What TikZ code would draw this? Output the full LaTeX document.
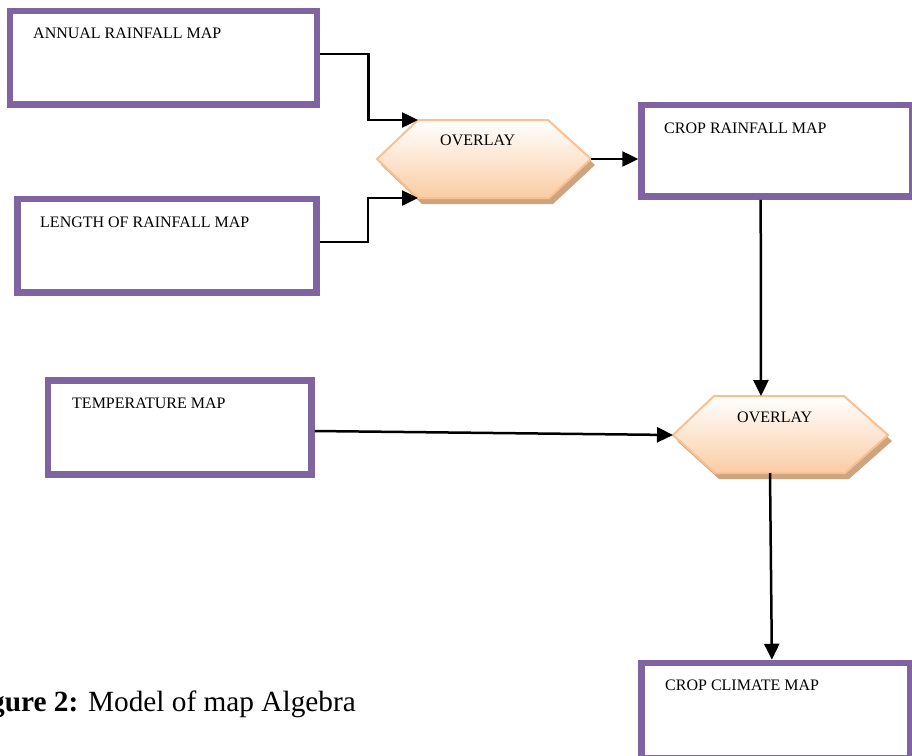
\documentclass[tikz,border=0pt]{standalone}
\usepackage{fontspec}
\setmainfont{Liberation Serif}
\usetikzlibrary{arrows.meta,calc}
\definecolor{boxpurple}{RGB}{128,100,162}
\definecolor{hexline}{RGB}{250,192,143}
\definecolor{hexfill}{RGB}{250,204,164}
\definecolor{hexshadow}{RGB}{204,164,128}
\tikzset{
  mapbox/.style={draw=boxpurple, line width=6.5pt, fill=white, inner sep=0pt},
  maplabel/.style={anchor=base west, inner sep=0pt, font=\fontsize{16}{18}\selectfont},
  conn/.style={line width=2.5pt, -{Triangle[length=16pt,width=15pt]}},
  hexshape/.style={draw=hexline, line width=2pt, top color=white, bottom color=hexfill},
  hexshadowstyle/.style={fill=hexshadow}
}
\begin{document}
\begin{tikzpicture}[x=1pt,y=-1pt]
\useasboundingbox (0,0) rectangle (912,755);

% boxes
\node[mapbox, minimum width=307pt, minimum height=93.5pt] (b1) at (163.5,57.75) {};
\node[mapbox, minimum width=299pt, minimum height=93.5pt] (b2) at (167,245.75) {};
\node[mapbox, minimum width=263.5pt, minimum height=94pt] (b3) at (179.75,427.5) {};
\node[mapbox, minimum width=270.5pt, minimum height=91.5pt] (b4) at (776.75,150.75) {};
\node[mapbox, minimum width=268.5pt, minimum height=95pt] (b5) at (775.75,710.5) {};

\node[maplabel] (t1) at (33,38) {ANNUAL RAINFALL MAP};
\node[maplabel] (t2) at (40,227) {LENGTH OF RAINFALL MAP};
\node[maplabel] (t3) at (72,408) {TEMPERATURE MAP};
\node[maplabel] (t4) at (664,133) {CROP RAINFALL MAP};
\node[maplabel] (t5) at (665,690) {CROP CLIMATE MAP};

% hexagon 1
\coordinate (h1l) at (377,159);
\coordinate (h1tl) at (418,120);
\coordinate (h1tr) at (548,120);
\coordinate (h1r) at (591,159);
\coordinate (h1br) at (549,198);
\coordinate (h1bl) at (418,198);
\fill[hexshadowstyle, shift={(4,6)}] (377,159) -- (418,120) -- (548,120) -- (591,159) -- (549,198) -- (418,198) -- cycle;
\path[hexshape] (h1l) -- (h1tl) -- (h1tr) -- (h1r) -- (h1br) -- (h1bl) -- cycle;
\node[maplabel] (o1) at (440,145) {OVERLAY};

% hexagon 2
\coordinate (h2l) at (673,435);
\coordinate (h2tl) at (714,396);
\coordinate (h2tr) at (844,396);
\coordinate (h2r) at (888,435);
\coordinate (h2br) at (845,473);
\coordinate (h2bl) at (715,473);
\coordinate (h2t) at (761,396);
\coordinate (h2b) at (770,473);
\fill[hexshadowstyle, shift={(4,6)}] (673,435) -- (714,396) -- (844,396) -- (888,435) -- (845,473) -- (715,473) -- cycle;
\path[hexshape] (h2l) -- (h2tl) -- (h2tr) -- (h2r) -- (h2br) -- (h2bl) -- cycle;
\node[maplabel] (o2) at (737,422) {OVERLAY};

% connectors
\draw[conn] ($(b1.east)+(0,-4)$) -- ++(48,0) |- (h1tl);
\draw[conn] ($(b2.east)+(0,-4)$) -- ++(48,0) |- (h1bl);
\draw[conn] (h1r) -- (b4.west |- h1r);
\draw[conn] ($(b4.south west)!0.442!(b4.south east)$) -- (h2t);
\draw[conn] ($(b3.east)+(0,3.5)$) -- (h2l);
\draw[conn] (h2b) -- ($(b5.north west)!0.486!(b5.north east)$);

% caption
\node[anchor=base west, inner sep=0pt, font=\fontsize{29.3}{33}\selectfont] (cap) at (-10,711) {\textbf{gure 2:} Model of map Algebra};
\end{tikzpicture}
\end{document}
